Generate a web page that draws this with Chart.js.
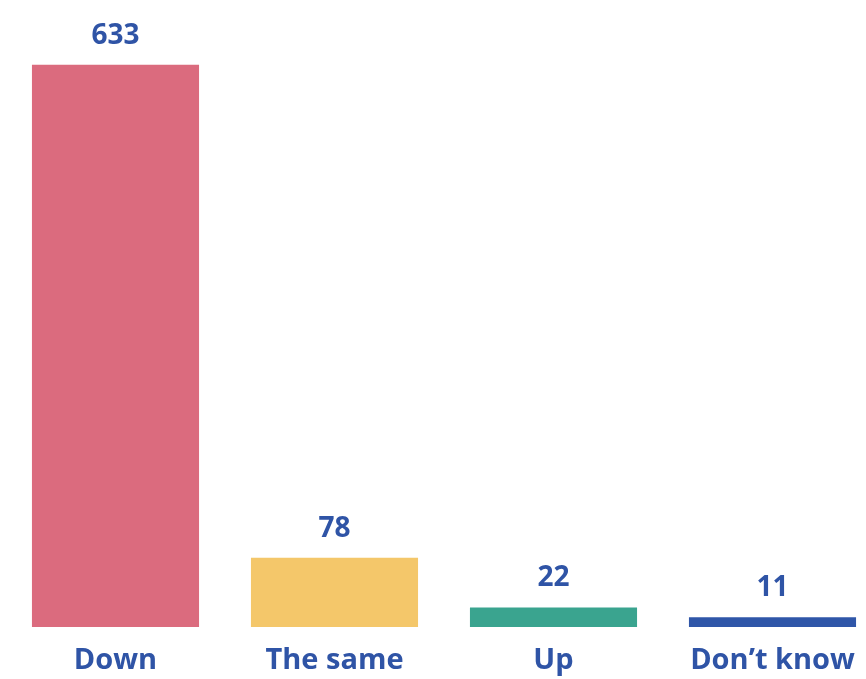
<!DOCTYPE html>
<html>
<head>
<meta charset="utf-8">
<script src="https://cdn.jsdelivr.net/npm/chart.js@4"></script>
<style>
    html, body { margin: 0; padding: 0; background: #fff; overflow: hidden; width: 866px; height: 679px; }
    #grafico { position: absolute; left: 6px; top: 0; }
</style>
</head>
<body>
<canvas id="grafico" width="876" height="679"></canvas>
<script>
// Datos del gráfico
const categorias = ['Down', 'The same', 'Up', 'Don\u2019t know'];
const valores = [633, 78, 22, 11];
const colores = ['#DB6B7E', '#F4C76A', '#3AA48F', '#2F56A8'];
const colorTexto = '#2F54A6';

// Etiquetas de valor encima de cada barra
const etiquetasValor = {
    id: 'etiquetasValor',
    afterDatasetsDraw(chart) {
        const ctx = chart.ctx;
        const meta = chart.getDatasetMeta(0);
        ctx.save();
        ctx.fillStyle = colorTexto;
        ctx.font = 'bold 28px "Open Sans", sans-serif';
        ctx.textAlign = 'center';
        ctx.textBaseline = 'middle';
        meta.data.forEach((bar, i) => {
            ctx.fillText(String(valores[i]), bar.x, bar.y - 29);
        });
        ctx.restore();
    }
};

new Chart(document.getElementById('grafico'), {
    type: 'bar',
    data: {
        labels: categorias,
        datasets: [{
            data: valores,
            backgroundColor: colores,
            borderWidth: 0,
            categoryPercentage: 1,
            barPercentage: 0.763
        }]
    },
    options: {
        responsive: false,
        devicePixelRatio: 1,
        animation: false,
        layout: { padding: 0 },
        plugins: {
            legend: { display: false },
            tooltip: { enabled: false }
        },
        scales: {
            y: {
                display: false,
                min: 0,
                max: 706
            },
            x: {
                grid: { display: false, drawTicks: false },
                border: { display: false },
                afterFit(scale) {
                    // altura fija del eje para que la base quede en y=627
                    scale.height = 52;
                },
                ticks: {
                    color: colorTexto,
                    padding: 16,
                    maxRotation: 0,
                    autoSkip: false,
                    font: { family: '"Open Sans", sans-serif', size: 29, weight: 'bold' }
                }
            }
        }
    },
    plugins: [etiquetasValor]
});
</script>
</body>
</html>
